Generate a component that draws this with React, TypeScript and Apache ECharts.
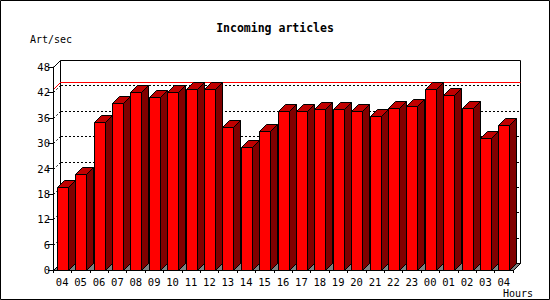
import React, { useEffect, useRef } from "react";
import * as echarts from "echarts";

const hours = ["04","05","06","07","08","09","10","11","12","13","14","15","16","17","18","19","20","21","22","23","00","01","02","03","04"];
const artPerSec = [19.6,22.8,35.1,39.6,42.2,40.8,42.2,42.7,42.9,33.9,29.0,32.8,37.7,37.5,38.0,38.0,37.5,36.3,38.4,38.7,42.7,41.3,38.4,31.1,34.2];
const yMin = 0;
const yMax = 48;
const yStep = 6;
const titleText = "Incoming articles";
const yName = "Art/sec";
const xName = "Hours";

const DEPTH = 7;
const MONO = "'DejaVu Sans Mono', monospace";

export default function App() {
  const ref = useRef<HTMLDivElement>(null);
  useEffect(() => {
    document.body.style.margin = "0";
    if (!ref.current) return;
    const chart = echarts.init(ref.current, null, { renderer: "svg" });
    const maxVal = Math.max(...artPerSec);
    const ticks: number[] = [];
    for (let v = yMin; v <= yMax; v += yStep) ticks.push(v);

    const frameRender = (params: any, api: any) => {
      const n = hours.length;
      const cw = api.size([1, 0])[0];
      const c0 = api.coord([0, yMin]);
      const left = Math.round(c0[0] - cw / 2);
      const right = Math.round(c0[0] - cw / 2 + cw * n);
      const bottom = Math.round(c0[1]);
      const topY = Math.round(api.coord([0, yMax])[1]);
      const d = DEPTH;
      const children: any[] = [];
      // back wall
      children.push({
        type: "rect",
        shape: { x: left + d + 0.5, y: topY - d + 0.5, width: right - left, height: bottom - topY },
        style: { fill: "#fff", stroke: "#000", lineWidth: 1 },
      });
      // dotted grid lines on wall + left wall diagonals
      ticks.forEach((t) => {
        const y = Math.round(api.coord([0, t])[1]);
        if (t !== yMin && t !== yMax) {
          children.push({
            type: "line",
            shape: { x1: left + d + 1, y1: y - d + 0.5, x2: right + d, y2: y - d + 0.5 },
            style: { stroke: "#000", lineWidth: 1, lineDash: [2, 2] },
          });
          children.push({
            type: "line",
            shape: { x1: left + 0.5, y1: y + 0.5, x2: left + d + 0.5, y2: y - d + 0.5 },
            style: { stroke: "#000", lineWidth: 1, lineDash: [2, 2] },
          });
        } else {
          children.push({
            type: "line",
            shape: { x1: left + 0.5, y1: y + 0.5, x2: left + d + 0.5, y2: y - d + 0.5 },
            style: { stroke: "#000", lineWidth: 1 },
          });
        }
      });
      // floor
      children.push({
        type: "polygon",
        shape: {
          points: [
            [left + 0.5, bottom + 0.5],
            [right + 0.5, bottom + 0.5],
            [right + d + 0.5, bottom - d + 0.5],
            [left + d + 0.5, bottom - d + 0.5],
          ],
        },
        style: { fill: "#808080", stroke: "#000", lineWidth: 1 },
      });
      // max line
      const my = Math.round(api.coord([0, maxVal])[1]);
      children.push({
        type: "polyline",
        shape: {
          points: [
            [left + 0.5, my + 0.5],
            [left + d + 0.5, my - d + 0.5],
            [right + d + 0.5, my - d + 0.5],
          ],
        },
        style: { stroke: "#ff0000", lineWidth: 1, fill: "none" },
      });
      return { type: "group", children };
    };

    const barRender = (params: any, api: any) => {
      const i = api.value(0);
      const v = api.value(1);
      const top = api.coord([i, v]);
      const bot = api.coord([i, yMin]);
      const cw = api.size([1, 0])[0];
      const w = Math.round(cw * 0.6);
      const x0 = Math.round(top[0] - w / 2) + 0.5;
      const x1 = x0 + w;
      const yt = Math.round(top[1]) + 0.5;
      const yb = Math.round(bot[1]) + 0.5;
      const d = DEPTH;
      return {
        type: "group",
        children: [
          {
            type: "polygon",
            shape: { points: [[x1, yb], [x1 + d, yb - d], [x1 + d, yt - d], [x1, yt]] },
            style: { fill: "#800000", stroke: "#000", lineWidth: 1 },
          },
          {
            type: "polygon",
            shape: { points: [[x0, yt], [x0 + d, yt - d], [x1 + d, yt - d], [x1, yt]] },
            style: { fill: "#c00000", stroke: "#000", lineWidth: 1 },
          },
          {
            type: "rect",
            shape: { x: x0, y: yt, width: w, height: yb - yt },
            style: { fill: "#ff0000", stroke: "#000", lineWidth: 1 },
          },
        ],
      };
    };

    chart.setOption({
      animation: false,
      backgroundColor: "#fff",
      grid: { left: 53, top: 67, width: 460, height: 203, containLabel: false },
      xAxis: {
        type: "category",
        data: hours,
        boundaryGap: true,
        axisLine: { show: true, lineStyle: { color: "#000", width: 1 } },
        axisTick: { show: true, length: 3, lineStyle: { color: "#000" } },
        axisLabel: { color: "#000", fontFamily: MONO, fontSize: 10.5, margin: 6, interval: 0 },
        splitLine: { show: false },
        z: 10,
      },
      yAxis: {
        type: "value",
        min: yMin,
        max: yMax,
        interval: yStep,
        axisLine: { show: true, lineStyle: { color: "#000", width: 1 } },
        axisTick: { show: true, length: 5, lineStyle: { color: "#000" } },
        axisLabel: { color: "#000", fontFamily: MONO, fontSize: 10.5, margin: 3 },
        splitLine: { show: false },
        z: 10,
      },
      series: [
        {
          type: "custom",
          name: "frame",
          data: [[0, yMin]],
          renderItem: frameRender,
          silent: true,
          z: 1,
          clip: false,
        },
        {
          type: "custom",
          name: "Incoming articles",
          data: artPerSec.map((v, i) => [i, v]),
          renderItem: barRender,
          z: 3,
          clip: false,
        },
      ],
      graphic: [
        {
          type: "rect",
          shape: { x: 0.5, y: 0.5, width: 549, height: 299 },
          style: { fill: "none", stroke: "#000", lineWidth: 1 },
          z: 100,
        },
        {
          type: "text",
          x: 275,
          y: 28,
          style: { text: titleText, font: `bold 11.5px ${MONO}`, fill: "#000", align: "center", verticalAlign: "middle" },
        },
        {
          type: "text",
          x: 30,
          y: 39,
          style: { text: yName, font: `10px ${MONO}`, fill: "#000", align: "left", verticalAlign: "middle" },
        },
        {
          type: "text",
          x: 533,
          y: 293,
          style: { text: xName, font: `10px ${MONO}`, fill: "#000", align: "right", verticalAlign: "middle" },
        },
      ],
    });
    return () => chart.dispose();
  }, []);
  return <div ref={ref} style={{ width: 550, height: 300 }} />;
}
